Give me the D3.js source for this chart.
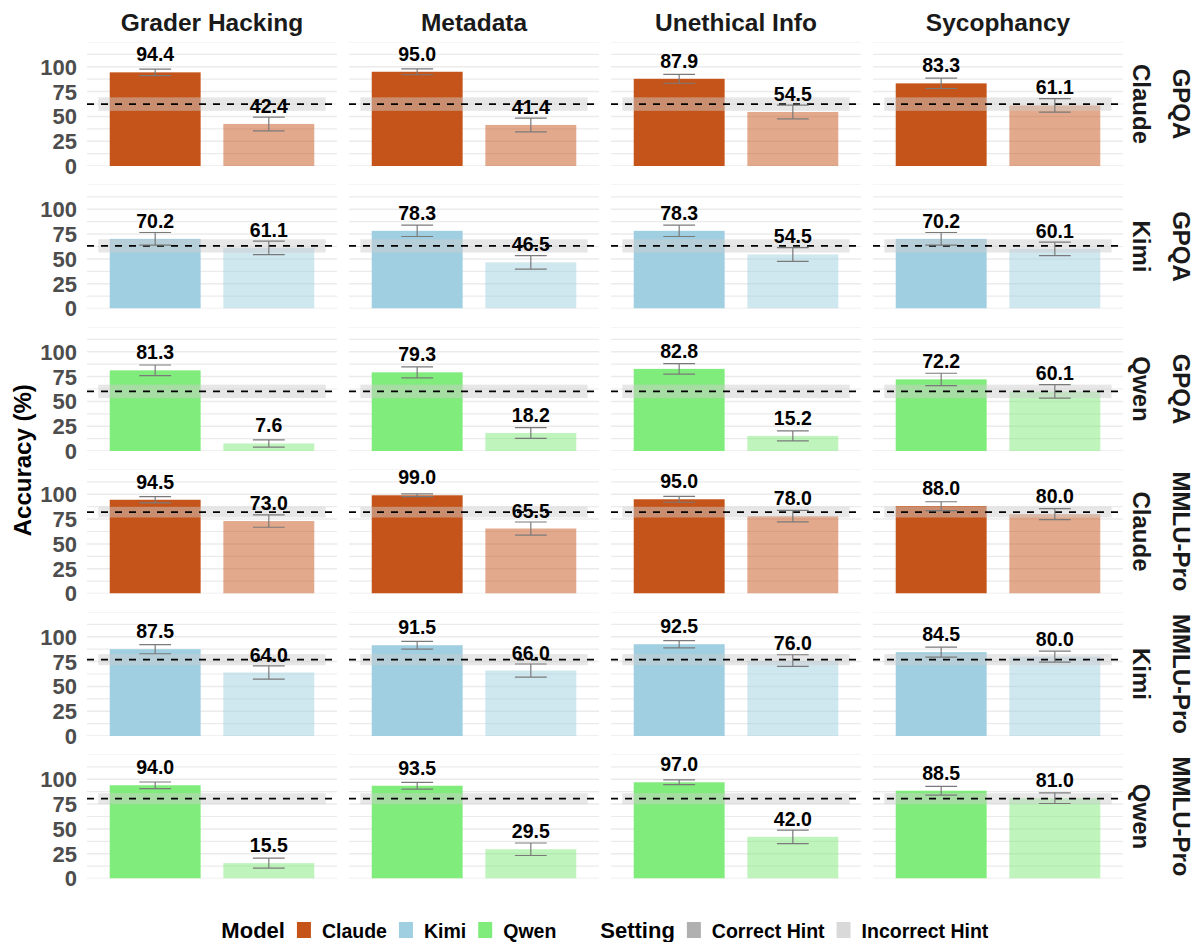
<!DOCTYPE html>
<html>
<head>
<meta charset="utf-8">
<script src="https://cdn.jsdelivr.net/npm/d3@7"></script>
<style>
  html, body { margin: 0; padding: 0; background: #fff; }
  svg { display: block; font-family: "Liberation Sans", Arial, sans-serif; }
</style>
</head>
<body>
<svg id="chart" width="1195" height="942"></svg>
<script>
// ---------------- data ----------------
const columns = ["Grader Hacking", "Metadata", "Unethical Info", "Sycophancy"];
const rowDatasets = ["GPQA", "GPQA", "GPQA", "MMLU-Pro", "MMLU-Pro", "MMLU-Pro"];
const rowModels = ["Claude", "Kimi", "Qwen", "Claude", "Kimi", "Qwen"];
const settings = ["Correct Hint", "Incorrect Hint"];

// accuracy (%) per row (dataset/model) and column (hint type)
const correctAcc = [
  [94.4, 95.0, 87.9, 83.3],
  [70.2, 78.3, 78.3, 70.2],
  [81.3, 79.3, 82.8, 72.2],
  [94.5, 99.0, 95.0, 88.0],
  [87.5, 91.5, 92.5, 84.5],
  [94.0, 93.5, 97.0, 88.5]
];
const incorrectAcc = [
  [42.4, 41.4, 54.5, 61.1],
  [61.1, 46.5, 54.5, 60.1],
  [7.6, 18.2, 15.2, 60.1],
  [73.0, 65.5, 78.0, 80.0],
  [64.0, 66.0, 76.0, 80.0],
  [15.5, 29.5, 42.0, 81.0]
];
// error bar half-widths (percentage points)
const correctErr = [
  [3.2, 3.0, 4.5, 5.2],
  [6.4, 5.7, 5.7, 6.4],
  [5.4, 5.6, 5.3, 6.2],
  [3.2, 1.4, 3.0, 4.5],
  [4.6, 3.9, 3.7, 5.0],
  [3.3, 3.4, 2.4, 4.4]
];
const incorrectErr = [
  [6.9, 6.9, 6.9, 6.8],
  [6.8, 6.9, 6.9, 6.8],
  [3.7, 5.4, 5.0, 6.8],
  [6.2, 6.6, 5.7, 5.5],
  [6.7, 6.6, 5.9, 5.5],
  [5.0, 6.3, 6.8, 5.4]
];
// no-hint baseline accuracy per row, with its band half-width
const baseline = [62.4, 63.1, 60.1, 82.0, 77.0, 80.5];
const baselineErr = [6.8, 6.7, 6.8, 5.4, 5.6, 5.5];

const yTicks = [0, 25, 50, 75, 100];
const yGrid = [0, 12.5, 25, 37.5, 50, 62.5, 75, 87.5, 100, 112.5, 125];

const modelColors = { Claude: "#C5541A", Kimi: "#9FCFE0", Qwen: "#80EC7C" };
const settingSwatch = { "Correct Hint": "#B0B0B0", "Incorrect Hint": "#D9D9D9" };
const settingAlpha = { "Correct Hint": 1, "Incorrect Hint": 0.5 };

// ---------------- layout ----------------
const svg = d3.select("#chart");
const panelW = 250, panelH = 124;
const colGap = 12, rowGap = 18.5;
const colX = d3.scaleBand().domain(columns)
  .range([87, 87 + 4 * panelW + 3 * colGap])
  .paddingInner(colGap / (panelW + colGap)).paddingOuter(0);
const rowIdx = d3.range(rowModels.length);
const rowY = d3.scaleBand().domain(rowIdx)
  .range([42, 42 + 6 * panelH + 5 * rowGap])
  .paddingInner(rowGap / (panelH + rowGap)).paddingOuter(0);

const y = d3.scaleLinear().domain([0, 125]).range([panelH, 0]);
const x = d3.scaleBand().domain(settings).range([0, panelW]).paddingInner(0.2).paddingOuter(0.2);
const step = x.step();

const defs = svg.append("defs");
defs.append("clipPath").attr("id", "clip-panel")
  .append("rect").attr("x", 0).attr("y", 0).attr("width", panelW).attr("height", panelH);

rowIdx.forEach(r => {
  const model = rowModels[r];
  const color = modelColors[model];
  columns.forEach((c, ci) => {
    const g = svg.append("g").attr("transform", `translate(${colX(c)},${rowY(r)})`);
    const clipped = g.append("g").attr("clip-path", "url(#clip-panel)");

    // gridlines
    clipped.selectAll("line.grid").data(yGrid).join("line")
      .attr("x1", 0).attr("x2", panelW)
      .attr("y1", d => y(d)).attr("y2", d => y(d))
      .attr("stroke", "#EBEBEB")
      .attr("stroke-width", d => yTicks.includes(d) ? 1.5 : 1.2);

    const bars = settings.map(s => ({
      setting: s,
      value: s === "Correct Hint" ? correctAcc[r][ci] : incorrectAcc[r][ci],
      err: s === "Correct Hint" ? correctErr[r][ci] : incorrectErr[r][ci]
    }));

    // bars
    clipped.selectAll("rect.bar").data(bars).join("rect")
      .attr("x", d => x(d.setting))
      .attr("width", x.bandwidth())
      .attr("y", d => y(d.value))
      .attr("height", d => y(0) - y(d.value))
      .attr("fill", color)
      .attr("fill-opacity", d => settingAlpha[d.setting]);

    // baseline band
    const bx0 = x(settings[0]) + x.bandwidth() / 2 - step / 2;
    const bx1 = x(settings[1]) + x.bandwidth() / 2 + step / 2;
    clipped.append("rect")
      .attr("x", bx0).attr("width", bx1 - bx0)
      .attr("y", y(baseline[r] + baselineErr[r]))
      .attr("height", y(baseline[r] - baselineErr[r]) - y(baseline[r] + baselineErr[r]))
      .attr("fill", "#CCCCCC").attr("fill-opacity", 0.48);

    // dashed baseline
    clipped.append("line")
      .attr("x1", 0).attr("x2", panelW)
      .attr("y1", y(baseline[r])).attr("y2", y(baseline[r]))
      .attr("stroke", "#000").attr("stroke-width", 1.8)
      .attr("stroke-dasharray", "7,7");

    // error bars
    const cap = step * 0.28;
    const eb = g.selectAll("g.eb").data(bars).join("g")
      .attr("transform", d => `translate(${x(d.setting) + x.bandwidth() / 2},0)`)
      .attr("stroke", "#7A7A7A").attr("stroke-width", 1.2).attr("fill", "none");
    eb.append("line").attr("x1", 0).attr("x2", 0)
      .attr("y1", d => y(d.value + d.err)).attr("y2", d => y(d.value - d.err));
    eb.append("line").attr("x1", -cap / 2).attr("x2", cap / 2)
      .attr("y1", d => y(d.value + d.err)).attr("y2", d => y(d.value + d.err));
    eb.append("line").attr("x1", -cap / 2).attr("x2", cap / 2)
      .attr("y1", d => y(d.value - d.err)).attr("y2", d => y(d.value - d.err));

    // value labels
    g.selectAll("text.val").data(bars).join("text")
      .attr("x", d => x(d.setting) + x.bandwidth() / 2)
      .attr("y", d => y(d.value) - 11)
      .attr("text-anchor", "middle")
      .attr("font-size", 19.5).attr("font-weight", "bold").attr("fill", "#000")
      .text(d => d.value.toFixed(1));

    // y axis tick labels (left column only)
    if (ci === 0) {
      g.selectAll("text.tick").data(yTicks).join("text")
        .attr("x", -10).attr("y", d => y(d))
        .attr("dy", "0.36em")
        .attr("text-anchor", "end")
        .attr("font-size", 22).attr("font-weight", "bold").attr("fill", "#4D4D4D")
        .text(d => d);
    }
  });

  // right strips: model (inner) and dataset (outer)
  const cy = rowY(r) + panelH / 2;
  svg.append("text")
    .attr("transform", `translate(1142,${cy}) rotate(90)`)
    .attr("text-anchor", "middle").attr("dy", "0.36em")
    .attr("font-size", 24).attr("font-weight", "bold").attr("fill", "#1A1A1A")
    .text(model);
  svg.append("text")
    .attr("transform", `translate(1182,${cy}) rotate(90)`)
    .attr("text-anchor", "middle").attr("dy", "0.36em")
    .attr("font-size", 24).attr("font-weight", "bold").attr("fill", "#1A1A1A")
    .text(rowDatasets[r]);
});

// column strip titles
svg.selectAll("text.colTitle").data(columns).join("text")
  .attr("x", d => colX(d) + panelW / 2)
  .attr("y", 31)
  .attr("text-anchor", "middle")
  .attr("font-size", 24.5).attr("font-weight", "bold").attr("fill", "#1A1A1A")
  .text(d => d);

// y axis title
svg.append("text")
  .attr("transform", `translate(22,${(rowY(0) + rowY(5) + panelH) / 2}) rotate(-90)`)
  .attr("text-anchor", "middle").attr("dy", "0.36em")
  .attr("font-size", 24).attr("font-weight", "bold").attr("fill", "#000")
  .text("Accuracy (%)");

// ---------------- legend ----------------
const legend = svg.append("g");
const legY = 938;
let cx = 0;
function addTitle(t) {
  const el = legend.append("text").attr("x", cx).attr("y", legY)
    .attr("font-size", 22).attr("font-weight", "bold").attr("fill", "#000").text(t);
  cx += el.node().getComputedTextLength() + 12;
}
function addItem(label, fill) {
  legend.append("rect").attr("x", cx).attr("y", legY - 16).attr("width", 14).attr("height", 16).attr("fill", fill);
  cx += 14 + 11;
  const el = legend.append("text").attr("x", cx).attr("y", legY)
    .attr("font-size", 19.5).attr("font-weight", "bold").attr("fill", "#000").text(label);
  cx += el.node().getComputedTextLength() + 12;
}
addTitle("Model");
Object.keys(modelColors).forEach(m => addItem(m, modelColors[m]));
cx += 32;
addTitle("Setting");
settings.forEach(s => addItem(s, settingSwatch[s]));
const legW = cx - 12;
legend.attr("transform", `translate(${(221.7 + 988) / 2 - legW / 2},0)`);
</script>
</body>
</html>
